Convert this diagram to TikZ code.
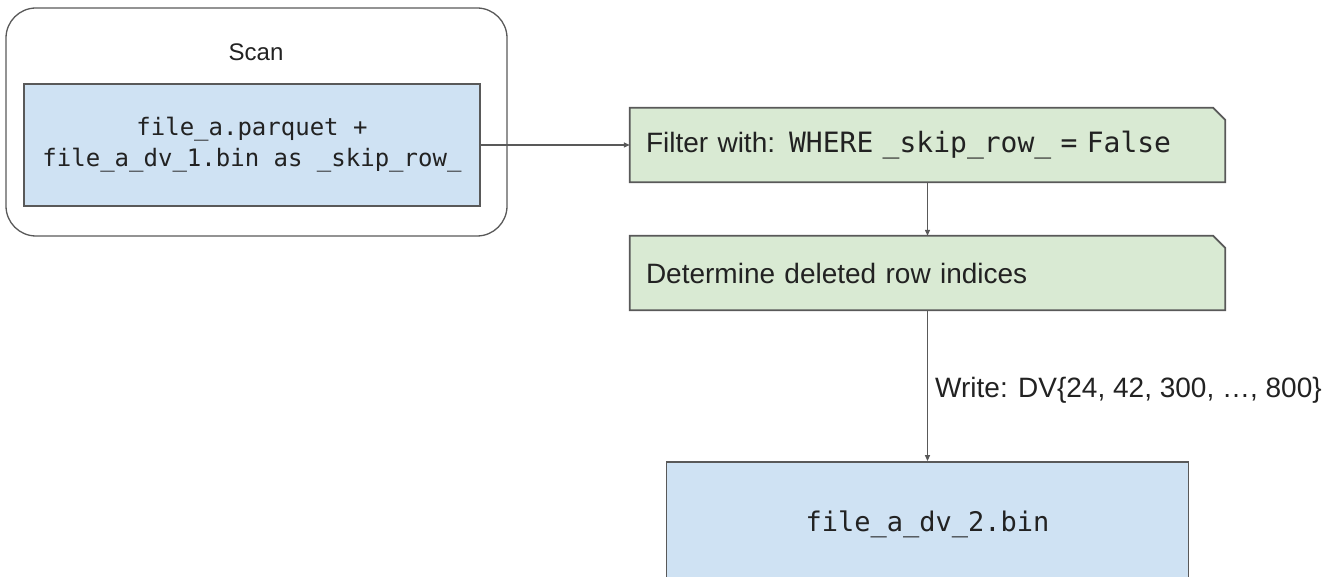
\documentclass[tikz,border=0pt]{standalone}
\usepackage{fontspec}
\setmainfont{Liberation Sans}
\setmonofont{DejaVu Sans Mono}
\usetikzlibrary{arrows.meta}
\definecolor{lineC}{HTML}{595959}
\definecolor{blueF}{HTML}{CFE2F3}
\definecolor{greenF}{HTML}{D9EAD3}
\definecolor{txtC}{HTML}{222222}
\pgfdeclarelayer{background}
\pgfsetlayers{background,main}
\begin{document}
\begin{tikzpicture}[x=1pt,y=-1pt,
  every node/.style={text=txtC},
  group/.style={draw=lineC, line width=1.3pt, rounded corners=30pt, minimum width=501pt, minimum height=228pt, inner sep=0pt},
  filebox/.style={draw=lineC, line width=1.8pt, fill=blueF, inner sep=0pt, align=center, font=\fontsize{24}{31}\selectfont\ttfamily},
  stepnode/.style={inner sep=0pt, minimum width=595pt, minimum height=74pt, text width=563pt, align=left, font=\fontsize{28}{34}\selectfont},
  stepshape/.style={draw=lineC, line width=1.8pt, fill=greenF},
  conn/.style={draw=lineC, line width=1.3pt, -{Triangle[length=6pt,width=5pt]}},
  lbl/.style={font=\fontsize{28}{34}\selectfont, anchor=west, inner sep=0pt}
]
\useasboundingbox (0,0) rectangle (1333,577);
\clip (0,0) rectangle (1333,577);

\node[group] (scan) at (256.5,122) {};
\node[font=\fontsize{24}{29}\selectfont, inner sep=0pt] (scanlbl) at (256,52) {Scan};
\node[filebox, minimum width=456pt, minimum height=122pt] (src) at (252,145)
  {file\_a.parquet +\\file\_a\_dv\_1.bin as \_skip\_row\_};

\node[stepnode] (filter) at (927.5,145) {Filter with: \texttt{WHERE \_skip\_row\_ = False}};
\node[stepnode] (det) at (927.5,273) {Determine deleted row indices};

\node[filebox, minimum width=522pt, minimum height=124pt, font=\fontsize{27}{32}\selectfont\ttfamily] (out) at (927.5,524) {file\_a\_dv\_2.bin};

\begin{pgfonlayer}{background}
\foreach \n in {filter,det}{
  \draw[stepshape] (\n.south west) -- (\n.north west) -- ([xshift=-12pt]\n.north east)
    -- ([yshift=-12pt]\n.north east) -- (\n.south east) -- cycle;
}
\end{pgfonlayer}

\draw[conn] (src.east) -- (filter.west);
\draw[conn] (filter.south) -- (det.north);
\draw[conn] (det.south) -- (out.north);
\node[lbl] (wlbl) at (935,390) {Write: DV\{24, 42, 300, …, 800\}};
\end{tikzpicture}
\end{document}
